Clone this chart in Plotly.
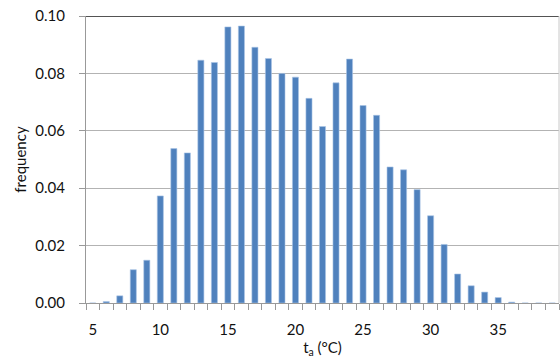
import plotly.graph_objects as go

temps = list(range(5, 40))
freq = [0.0, 0.0005, 0.0025, 0.0116, 0.0149, 0.0373, 0.0538, 0.0523, 0.0846, 0.0838,
        0.0962, 0.0965, 0.0891, 0.0852, 0.0800, 0.0787, 0.0713, 0.0615, 0.0767, 0.0850,
        0.0688, 0.0654, 0.0474, 0.0464, 0.0395, 0.0304, 0.0204, 0.0101, 0.0060, 0.0038,
        0.0019, 0.0003, 0.0, 0.0, 0.0]
xtick_vals = [5, 10, 15, 20, 25, 30, 35]
ytick_vals = [0.0, 0.02, 0.04, 0.06, 0.08, 0.10]

font = "Lato, 'Open Sans', sans-serif"

fig = go.Figure()
fig.add_trace(go.Bar(x=temps, y=freq, width=0.45,
                     marker=dict(color="#4F81BD", line=dict(color="#A9C4E6", width=0.6))))

fig.add_shape(type="line", xref="paper", yref="y", x0=0, x1=1, y0=0.1, y1=0.1,
              line=dict(color="#1a1a1a", width=1.5))
fig.add_shape(type="line", xref="paper", yref="paper", x0=1, x1=1, y0=0, y1=1,
              line=dict(color="#c8c8c8", width=1))

fig.update_layout(
    width=560, height=364,
    margin=dict(l=86, r=1, t=16, b=61),
    paper_bgcolor="white", plot_bgcolor="white",
    showlegend=False,
    font=dict(family=font, size=15, color="#111"),
    xaxis=dict(range=[4.5, 39.5], tickvals=xtick_vals, ticktext=[str(v) for v in xtick_vals],
               ticks="outside", ticklen=13, tickcolor="rgba(0,0,0,0)",
               showline=True, linecolor="#999999", linewidth=1,
               showgrid=False, zeroline=False,
               minor=dict(tick0=4.5, dtick=1, ticks="outside", ticklen=6, tickcolor="#999999", showgrid=False),
               title=dict(text="t<sub>a</sub> (°C)", font=dict(size=15), standoff=3)),
    yaxis=dict(range=[0, 0.1], tickvals=ytick_vals, tickformat=".2f",
               ticks="outside", ticklen=6, tickcolor="#999999",
               ticklabelstandoff=11,
               showline=True, linecolor="#999999", linewidth=1,
               showgrid=True, gridcolor="#b3b3b3", gridwidth=1, zeroline=False,
               title=dict(text="frequency", font=dict(size=15), standoff=5)),
)

fig.write_html("out.html")
